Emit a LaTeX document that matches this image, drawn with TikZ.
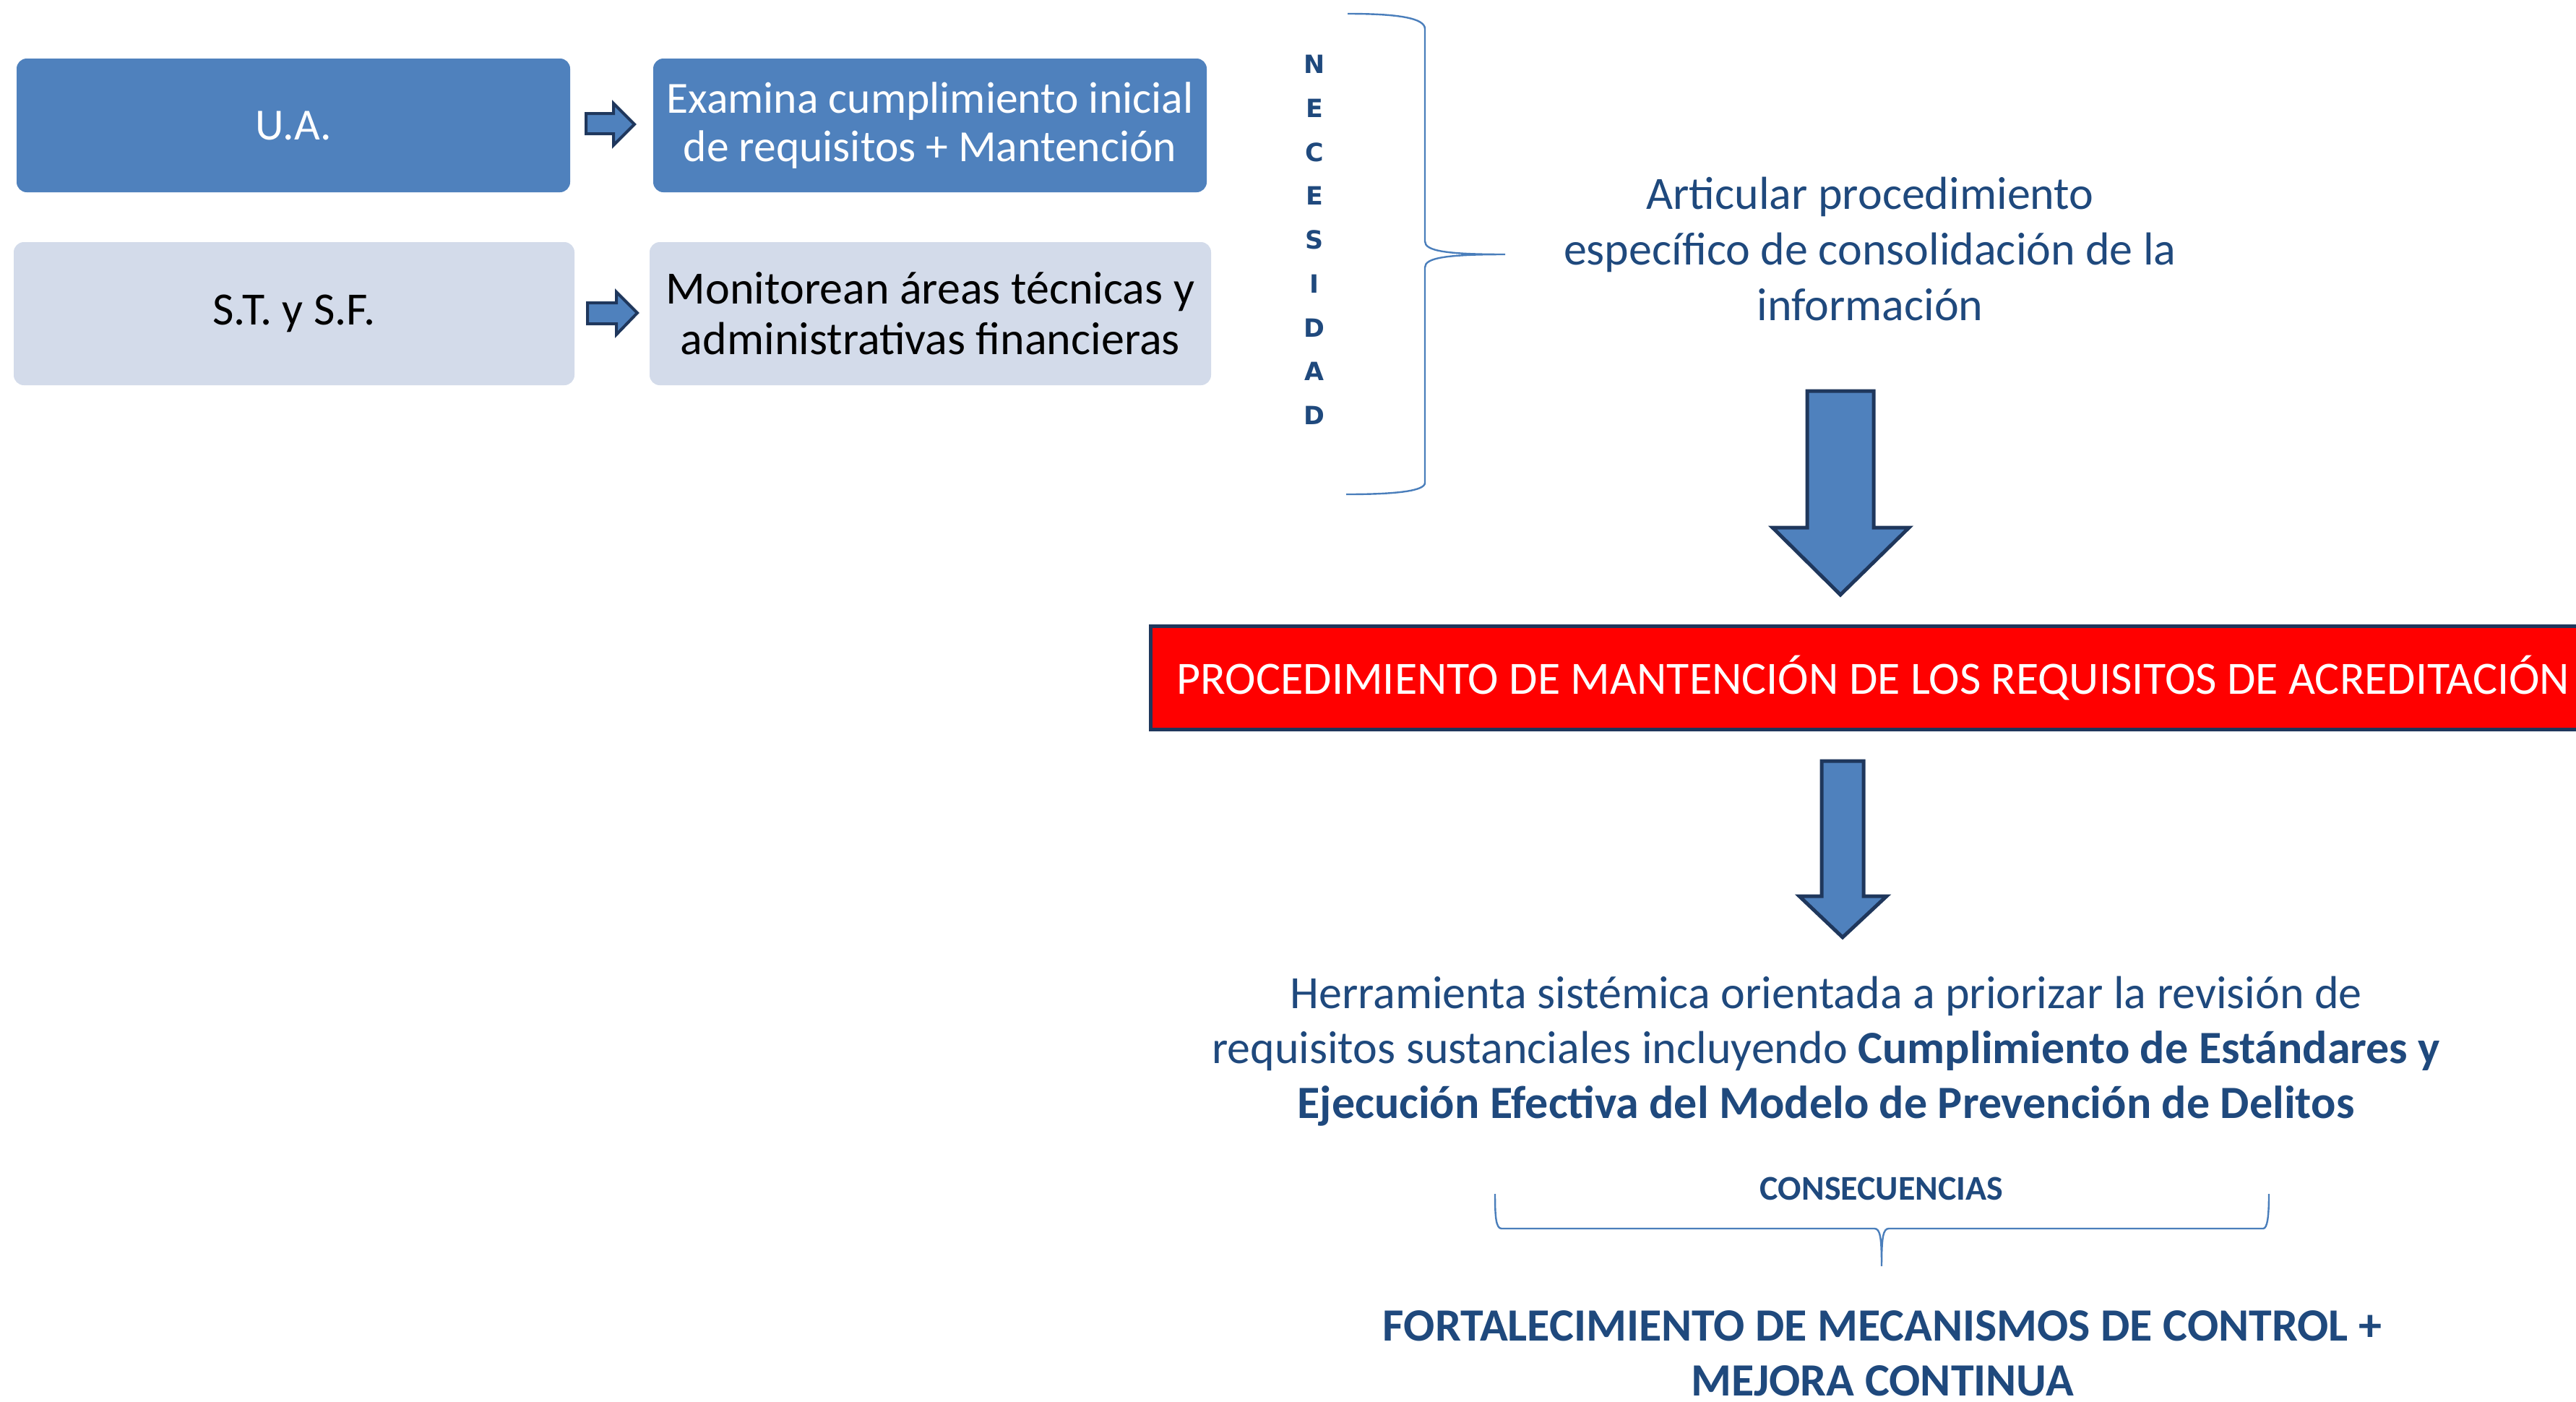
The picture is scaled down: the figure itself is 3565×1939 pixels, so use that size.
\documentclass[tikz,border=0pt]{standalone}
\usepackage{fontspec}
\setmainfont{Carlito}
\newfontfamily\necfont{DejaVu Sans}
\usepackage{tikz}

\definecolor{uablue}{RGB}{79,129,189}
\definecolor{stgrey}{RGB}{211,219,234}
\definecolor{navy}{RGB}{31,55,92}
\definecolor{darkblue}{RGB}{31,73,125}
\definecolor{bracecol}{RGB}{74,126,187}

\begin{document}
\begin{tikzpicture}[x=0.25pt,y=0.25pt,yscale=-1,xscale=1,
  bluebox/.style={fill=uablue, rounded corners=3.5pt, inner sep=0pt, align=center, text=white, font=\fontsize{15.4}{16.8}\selectfont},
  greybox/.style={fill=stgrey, rounded corners=3.5pt, inner sep=0pt, align=center, text=black, font=\fontsize{16}{17.6}\selectfont},
  blockarrow/.style={fill=uablue, draw=navy, line join=miter},
  bracket/.style={draw=bracecol, line width=0.6pt},
  bluetext/.style={text=darkblue, inner sep=0pt, align=center}]
\useasboundingbox (0,0) rectangle (3565,1939);

%Rounded Rect U.A.
\node (ua) at (406,173.5) [bluebox, minimum width=191.5pt, minimum height=46.25pt] {U.A.};
%Rounded Rect Examina
\node (examina) at (1287,173.5) [bluebox, minimum width=191.5pt, minimum height=46.25pt] {Examina cumplimiento inicial\\de requisitos + Mantenci\'on};
%Rounded Rect S.T.
\node (stsf) at (407,434) [greybox, minimum width=194pt, minimum height=49.5pt] {S.T. y S.F.};
%Rounded Rect Monitorean
\node (monitorean) at (1287.5,434) [greybox, minimum width=194.25pt, minimum height=49.5pt] {Monitorean \'areas t\'ecnicas y\\administrativas financieras};

%Right Arrow
\draw [blockarrow, line width=1pt] (811,157) -- (849,157) -- (849,143) -- (878,172) -- (849,201) -- (849,185) -- (811,185) -- cycle ;
%Right Arrow
\draw [blockarrow, line width=1pt] (813,419) -- (853,419) -- (853,404) -- (882,433) -- (853,463) -- (853,448) -- (813,448) -- cycle ;

% NECESIDAD
\foreach \l [count=\i] in {N,E,C,E,S,I,D,A,D}
  \node (nec\i) at ({1819},{89+60.75*(\i-1)}) [text=darkblue, inner sep=0pt, font=\necfont\bfseries\fontsize{8.7}{10}\selectfont] {\l};

%Curve Lines brace
\draw [bracket] (1865,19) .. controls (1935,19) and (1972,25) .. (1972,40) -- (1972,334) .. controls (1972,347) and (2000,352) .. (2083,352) .. controls (2000,352) and (1972,357) .. (1972,370) -- (1972,668) .. controls (1972,679) and (1935,684) .. (1863,684) ;

% Text Node
\node (articular) at (2588,345) [bluetext, font=\fontsize{16}{19.25}\selectfont] {Articular procedimiento\\espec\'ifico de consolidaci\'on de la\\informaci\'on};

%Down Arrow
\draw [blockarrow, line width=1.25pt] (2501,541) -- (2593,541) -- (2593,730) -- (2642,730) -- (2547,823) -- (2453,730) -- (2501,730) -- cycle ;

%Rectangle
\node (proc) at (2592.5,938) [fill=red, draw=navy, line width=1.25pt, minimum width=500pt, minimum height=35.75pt, inner sep=0pt, text=white, font=\fontsize{16}{18}\selectfont] {PROCEDIMIENTO DE MANTENCI\'ON DE LOS REQUISITOS DE ACREDITACI\'ON};

%Down Arrow
\draw [blockarrow, line width=1.25pt] (2521,1053) -- (2579,1053) -- (2579,1240) -- (2611,1240) -- (2550,1297) -- (2490,1240) -- (2521,1240) -- cycle ;

% Text Node
\node (herramienta) at (2527,1455) [bluetext, font=\fontsize{16}{19}\selectfont] {Herramienta sist\'emica orientada a priorizar la revisi\'on de\\requisitos sustanciales incluyendo \textbf{Cumplimiento de Est\'andares y}\\\textbf{Ejecuci\'on Efectiva del Modelo de Prevenci\'on de Delitos}};

% Text Node
\node (consec) at (2604,1645) [bluetext, font=\fontsize{12}{14}\selectfont\bfseries] {CONSECUENCIAS};

%Curve Lines brace
\draw [bracket] (2069,1652) .. controls (2069,1682) and (2070,1700) .. (2078,1700) -- (2594,1700) .. controls (2602,1700) and (2604,1712) .. (2604,1752) .. controls (2604,1712) and (2606,1700) .. (2614,1700) -- (3132,1700) .. controls (3138,1700) and (3140,1682) .. (3140,1652) ;

% Text Node
\node (fortal) at (2605,1873) [bluetext, font=\fontsize{16}{19}\selectfont\bfseries] {FORTALECIMIENTO DE MECANISMOS DE CONTROL +\\MEJORA CONTINUA};
\end{tikzpicture}
\end{document}
